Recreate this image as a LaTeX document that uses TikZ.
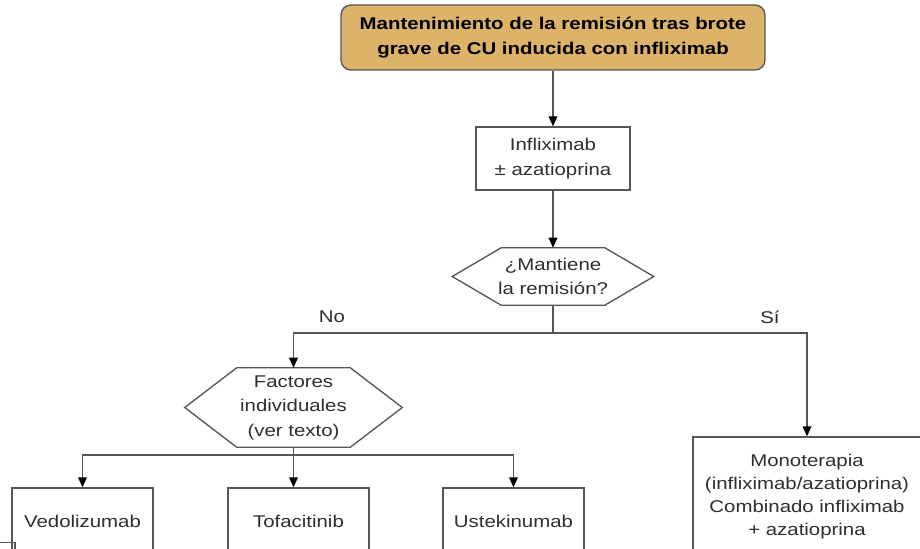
\documentclass[tikz,border=0pt]{standalone}
\usepackage{fontspec}
\setmainfont{Liberation Sans}[FakeStretch=1.2]
\usepackage{tikz}
\usetikzlibrary{arrows.meta,calc,positioning}
\definecolor{boxline}{HTML}{555555}
\definecolor{toptan}{HTML}{DDB36A}
\definecolor{txt}{HTML}{2E2E2E}
\tikzstyle{topbox}=[draw=boxline,fill=toptan,rounded corners=7.5pt,line width=1pt,align=center,inner sep=0pt,text=black,font=\bfseries\fontsize{12.75}{18.75}\selectfont]
\tikzstyle{process}=[draw=boxline,line width=1pt,align=center,inner sep=0pt,text=txt,font=\fontsize{12.75}{18.4}\selectfont]
\tikzstyle{decision}=[align=center,inner sep=0pt,text=txt,font=\fontsize{12.75}{18.4}\selectfont]
\tikzstyle{hexline}=[draw=boxline,line width=1pt]
\tikzstyle{line}=[draw=boxline,line width=1pt]
\tikzstyle{edge}=[draw=boxline,line width=1pt,-{Triangle[length=7.5pt,width=6.5pt,fill=black,color=black]}]
\tikzstyle{answer}=[text=txt,font=\fontsize{12.75}{17.25}\selectfont]

\begin{document}
\begin{tikzpicture}[x=0.75pt,y=-0.75pt]
    \useasboundingbox (0,0) rectangle (920,549);
    % First we draw the boxes
    \node[topbox,minimum width=318pt,minimum height=48.75pt] (top) at (553,37.5)
        {Mantenimiento de la remisión tras brote\\grave de CU inducida con infliximab};
    \node[process,minimum width=115.5pt,minimum height=47.25pt] (ifx) at (553,158.5)
        {Infliximab\\± azatioprina};
    \node[decision,minimum width=150.75pt,minimum height=42.75pt] (remision) at (553,276.5)
        {¿Mantiene\\la remisión?};
    \node[decision,minimum width=162.75pt,minimum height=59.25pt] (factores) at (293.5,407.5)
        {Factores\\individuales\\(ver texto)};

    % Hexagons round the decisions
    \foreach \name/\dx in {remision/49, factores/52}
        \draw[hexline] (\name.west) -- ($(\name.north west)+(\dx,0)$) -- ($(\name.north east)+(-\dx,0)$)
            -- (\name.east) -- ($(\name.south east)+(-\dx,0)$) -- ($(\name.south west)+(\dx,0)$) -- cycle;

    \foreach \pos/\name/\txt in {{(82.5,521)/vedo/Vedolizumab},{(298.5,521)/tofa/Tofacitinib},{(513.5,521)/uste/Ustekinumab}}
        \node[process,minimum width=105.75pt,minimum height=49.5pt] (\name) at \pos {\txt};

    \node[process,minimum width=171pt,minimum height=89.25pt,font=\fontsize{12.75}{17.25}\selectfont] (mono) at (807,496.5)
        {Monoterapia\\(infliximab/azatioprina)\\Combinado infliximab\\+ azatioprina};

    \node[answer] (no) at (332,317) {No};
    \node[answer] (si) at (770,317) {Sí};

    % Connect the boxes
    \coordinate (split) at (553,333);
    \coordinate (split2) at (293.5,455);
    \foreach \source/\dest in {top/ifx, ifx/remision}
        \path[edge] (\source) -- (\dest);
    \path[line] (remision.south) -- (split);
    \path[edge] (split) -| (factores.north);
    \path[edge] (split) -| (mono.north);
    \path[line] (factores.south) -- (split2);
    \path[edge] (split2) -| (vedo.north);
    \path[edge] (factores.south) -- (factores.south |- tofa.north);
    \path[edge] (split2) -| (uste.north);

    % corner of a box cut off at the lower left
    \draw[line] (-5,542.5) -- (15,542.5) -- (15,560);
\end{tikzpicture}
\end{document}
